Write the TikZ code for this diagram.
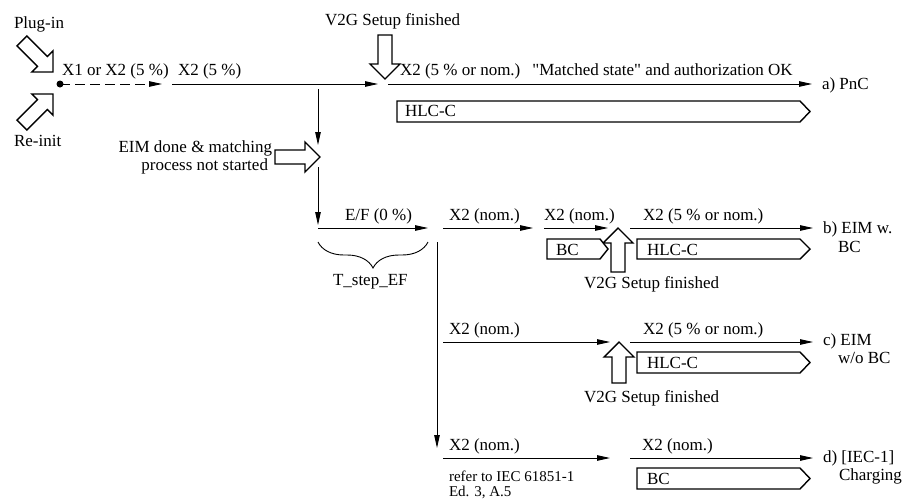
\documentclass[tikz,border=0pt]{standalone}
\usepackage{fontspec}
\setmainfont{Liberation Serif}
\newfontfamily\qfont{Liberation Serif}[Ligatures=TeXOff]
\usetikzlibrary{arrows.meta,decorations.pathreplacing}
\tikzset{
  harrow/.pic={\draw[hollow] (0,0) -- (-15,-15) -- (-15,-7) -- (-#1,-7) -- (-#1,7) -- (-15,7) -- (-15,15) -- cycle;},
}
\begin{document}
\begin{tikzpicture}[x=1pt,y=-1pt,
  every node/.style={inner sep=0pt, outer sep=0pt},
  bigfont/.style={font=\fontsize{17}{20}\selectfont},
  smallfont/.style={font=\fontsize{15}{18}\selectfont},
  conn/.style={line width=0.9pt, -{Triangle[length=13pt,width=5.5pt]}},
  dconn/.style={conn, dash pattern=on 10pt off 5pt},
  hollow/.style={line width=1.4pt, fill=white, line join=miter},
  lbl/.style={anchor=base west, bigfont},
  lble/.style={anchor=base east, bigfont},
  reflbl/.style={anchor=base west, smallfont},
  bracestyle/.style={line width=0.9pt, decorate, decoration={brace, amplitude=26pt, mirror}}]
\useasboundingbox (0,0) rectangle (904,498);

% ---- hollow event arrows ----
\pic[rotate=-45] at (53,72) {harrow=44};
\pic[rotate=45] at (53,94) {harrow=44};
\pic[rotate=-90] at (385,79) {harrow=44};
\pic at (320,157) {harrow=45};
\pic[rotate=90] at (618,228) {harrow=44};
\pic[rotate=90] at (619,342) {harrow=41};

% ---- tag boxes ----
\draw[hollow] (397,101) -- (800,101) -- (810,111.5) -- (800,122) -- (397,122) -- cycle;
\draw[hollow] (547,239) -- (600,239) -- (608,249) -- (600,259) -- (547,259) -- cycle;
\draw[hollow] (637,239) -- (800,239) -- (810,249) -- (800,259) -- (637,259) -- cycle;
\draw[hollow] (637,352) -- (800,352) -- (810,362.5) -- (800,373) -- (637,373) -- cycle;
\draw[hollow] (637,468) -- (800,468) -- (810,478.5) -- (800,489) -- (637,489) -- cycle;

\node[lbl] (hlca) at (405,116) {HLC-C};
\node[lbl] (bcb) at (556,255) {BC};
\node[lbl] (hlcb) at (647,255) {HLC-C};
\node[lbl] (hlcc) at (647,368) {HLC-C};
\node[lbl] (bcd) at (647,484) {BC};

% ---- start dot ----
\fill (60,84) circle (3.5pt);
\coordinate (dot) at (60,84);

% ---- coordinates ----
\coordinate (a1) at (162,84);
\coordinate (a2s) at (172,84);
\coordinate (a2e) at (378,84);
\coordinate (a3s) at (388,84);
\coordinate (a3e) at (812,84);
\coordinate (v1s) at (318,89);
\coordinate (v1e) at (318,145);
\coordinate (v2s) at (318,167);
\coordinate (v2e) at (318,225);
\coordinate (efs) at (318,228);
\coordinate (efe) at (428,228);
\coordinate (v3s) at (437,242);
\coordinate (v3e) at (437,448);
\coordinate (b1s) at (443,228);
\coordinate (b1e) at (533,228);
\coordinate (b2s) at (544,228);
\coordinate (b2e) at (608,228);
\coordinate (b3s) at (630,228);
\coordinate (b3e) at (813,228);
\coordinate (c1s) at (443,342);
\coordinate (c1e) at (610,342);
\coordinate (c2s) at (630,342);
\coordinate (c2e) at (813,342);
\coordinate (d1s) at (443,458);
\coordinate (d1e) at (610,458);
\coordinate (d2s) at (630,458);
\coordinate (d2e) at (813,458);
\coordinate (brl) at (318,242);
\coordinate (brr) at (428,242);

% ---- connectors ----
\draw[dconn] (dot) -- (a1);
\draw[conn] (a2s) -- (a2e);
\draw[conn] (a3s) -- (a3e);
\draw[conn] (v1s) -- (v1e);
\draw[conn] (v2s) -- (v2e);
\draw[conn] (efs) -- (efe);
\draw[conn] (v3s) -- (v3e);
\draw[conn] (b1s) -- (b1e);
\draw[conn] (b2s) -- (b2e);
\draw[conn] (b3s) -- (b3e);
\draw[conn] (c1s) -- (c1e);
\draw[conn] (c2s) -- (c2e);
\draw[conn] (d1s) -- (d1e);
\draw[conn] (d2s) -- (d2e);
\draw[bracestyle] (brl) -- (brr);

% ---- labels ----
\node[lbl] (plug) at (14,28) {Plug-in};
\node[lbl] (reinit) at (14,146) {Re-init};
\node[lbl] (v2ga) at (325,25) {V2G Setup finished};
\node[lbl] (x1) at (62,75) {X1 or X2 (5 \%)};
\node[lbl] (x2a) at (178,75) {X2 (5 \%)};
\node[lbl] (x3a) at (400,75) {X2 (5 \% or nom.)\hspace*{12pt}{\qfont "}Matched state{\qfont "} and authorization OK};
\node[lbl] (pnc) at (822,89) {a) PnC};
\node[lble] (eim1) at (272,152) {EIM done \& matching};
\node[lble] (eim2) at (268,170) {process not started};
\node[lbl] (ef) at (345,220) {E/F (0 \%)};
\node[lbl] (tstep) at (333,285) {T\_step\_EF};
\node[lbl] (xb1) at (449,220) {X2 (nom.)};
\node[lbl] (xb2) at (544,220) {X2 (nom.)};
\node[lbl] (xb3) at (643,220) {X2 (5 \% or nom.)};
\node[lbl] (rb1) at (823,233) {b) EIM w.};
\node[lbl] (rb2) at (838,252) {BC};
\node[lbl] (v2gb) at (584,288) {V2G Setup finished};
\node[lbl] (xc1) at (449,334) {X2 (nom.)};
\node[lbl] (xc2) at (643,334) {X2 (5 \% or nom.)};
\node[lbl] (rc1) at (823,345) {c) EIM};
\node[lbl] (rc2) at (838,363) {w/o BC};
\node[lbl] (v2gc) at (584,402) {V2G Setup finished};
\node[lbl] (xd1) at (449,450) {X2 (nom.)};
\node[lbl] (xd2) at (642,450) {X2 (nom.)};
\node[reflbl] (ref1) at (449,481) {refer to IEC 61851-1};
\node[reflbl] (ref2) at (449,496) {Ed. 3, A.5};
\node[lbl] (rd1) at (823,462) {d) [IEC-1]};
\node[lbl] (rd2) at (839,480) {Charging};
\end{tikzpicture}
\end{document}
